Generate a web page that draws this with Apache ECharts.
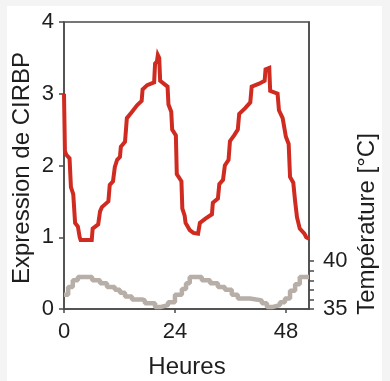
<!DOCTYPE html>
<html>
<head>
<meta charset="utf-8">
<script src="https://cdn.jsdelivr.net/npm/echarts@6/dist/echarts.min.js"></script>
<style>
html,body{margin:0;padding:0;background:#f4f4f4;}
#c{width:390px;height:381px;}
</style>
</head>
<body>
<div id="c"></div>
<script>
// CIRBP expression, hours -> value
const redHours  = [0,0.2,0.5,1.2,1.5,2.0,2.4,3.0,3.4,3.6,6.0,6.2,7.4,7.8,8.2,9.6,9.9,10.6,11.0,11.5,12.1,12.3,13.2,13.6,14.6,15.8,16.8,17.0,18.0,19.5,19.7,20.1,20.3,20.6,20.8,22.4,22.6,23.2,23.4,24.2,24.4,25.4,25.6,26.1,26.3,27.2,28.0,29.0,29.4,30.6,32.0,32.2,33.3,33.6,34.4,34.8,35.6,35.9,36.8,37.6,37.9,39.2,40.3,40.6,42.2,43.4,43.6,44.4,44.6,46.2,46.5,47.3,48.0,48.6,48.9,49.6,50.0,50.4,51.0,52.0,52.4,53];
const redValues = [3.0,2.2,2.15,2.1,1.7,1.6,1.2,1.15,1.0,0.96,0.96,1.12,1.18,1.36,1.42,1.5,1.73,1.78,1.98,2.08,2.12,2.26,2.33,2.66,2.74,2.84,2.9,3.06,3.12,3.16,3.42,3.45,3.54,3.5,3.18,3.1,2.85,2.75,2.5,2.42,1.88,1.78,1.4,1.3,1.2,1.1,1.06,1.05,1.2,1.26,1.32,1.48,1.54,1.74,1.8,2.0,2.08,2.34,2.42,2.5,2.72,2.8,2.88,3.1,3.14,3.18,3.34,3.36,3.04,3.0,2.77,2.66,2.4,2.3,1.84,1.76,1.5,1.28,1.12,1.05,1.0,0.98];
// Temperature (stepped), hours -> °C
const tempHours  = [0,0.9,1.9,3.0,6.1,7.8,9.3,11.0,12.1,13.2,14.7,16.9,17.5,19.7,20.8,22.5,24.0,25.5,26.4,27.2,29.8,31.6,33.3,34.8,36.3,37.6,40.2,42.8,43.9,45.0,46.7,47.8,48.9,50.0,51.0,53];
const tempValues = [36.5,37.3,38.0,38.35,38.0,37.7,37.3,37.0,36.7,36.3,36.0,35.9,35.6,35.2,35.4,35.7,36.5,37.1,37.7,38.35,38.0,37.7,37.3,37.0,36.5,36.1,35.9,35.6,35.2,35.4,35.7,36.1,36.9,37.6,38.35,38.35];
// Tick labels
const xTicks = [0,24,48];
const yLeftTicks = [0,1,2,3,4];
const yRightTicks = [35,36,37,38,39,40];
const yRightLabels = [35,40];

const FONT = 'Liberation Sans';
const chart = echarts.init(document.getElementById('c'), null, {renderer:'canvas'});
const axisCol = '#4a4a4a';
const txtCol = '#1e1e1e';
chart.setOption({
  animation:false,
  backgroundColor:'#f4f4f4',
  graphic:[
    {type:'rect', z:-10, shape:{x:7,y:6,width:375,height:375}, style:{fill:'#ffffff'}},
    {type:'text', x:22, y:168, rotation:Math.PI/2,
     style:{text:'Expression de CIRBP', font:'24px "'+FONT+'"', fill:txtCol, align:'center', verticalAlign:'middle'}},
    {type:'text', x:367, y:224, rotation:Math.PI/2,
     style:{text:'Température [°C]', font:'24px "'+FONT+'"', fill:txtCol, align:'center', verticalAlign:'middle'}},
    {type:'text', x:187, y:367,
     style:{text:'Heures', font:'24px "'+FONT+'"', fill:txtCol, align:'center', verticalAlign:'middle'}}
  ],
  grid:{left:64, top:22, right:81, bottom:72, show:true, borderColor:axisCol, borderWidth:1.5, backgroundColor:'transparent'},
  xAxis:{type:'value', min:0, max:53, interval:24,
    axisLine:{show:true, lineStyle:{color:axisCol, width:1.5}},
    axisTick:{show:true, inside:false, length:4, lineStyle:{color:axisCol, width:1.5}, customValues:xTicks},
    axisLabel:{color:txtCol, fontSize:22, fontFamily:FONT, margin:12, customValues:xTicks},
    splitLine:{show:false}},
  yAxis:[
    {type:'value', min:0, max:4, interval:1, position:'left',
     axisLine:{show:true, lineStyle:{color:axisCol, width:1.5}},
     axisTick:{show:true, length:5, lineStyle:{color:axisCol, width:1.5}, customValues:yLeftTicks},
     axisLabel:{color:txtCol, fontSize:22, fontFamily:FONT, margin:10, customValues:yLeftTicks},
     splitLine:{show:false}},
    {type:'value', min:35, max:65, interval:1, position:'right',
     axisLine:{show:true, lineStyle:{color:axisCol, width:1.5}},
     axisTick:{show:true, length:5, lineStyle:{color:axisCol, width:1.5}, customValues:yRightTicks},
     axisLabel:{color:txtCol, fontSize:22, fontFamily:FONT, margin:14, customValues:yRightLabels},
     splitLine:{show:false}}
  ],
  series:[
    {type:'line', yAxisIndex:1, step:'end', showSymbol:false, silent:true,
     data:tempHours.map((h,i)=>[h,tempValues[i]]),
     lineStyle:{color:'#b6aea7', width:4.5}},
    {type:'line', yAxisIndex:0, showSymbol:false, silent:true,
     data:redHours.map((h,i)=>[h,redValues[i]]),
     lineStyle:{color:'#d02b20', width:4, join:'miter'}}
  ]
});
</script>
</body>
</html>
